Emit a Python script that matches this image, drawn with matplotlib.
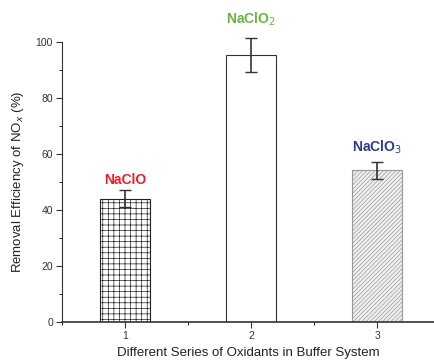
import numpy as np
import matplotlib
matplotlib.use('Agg')
import matplotlib.pyplot as plt
from matplotlib.ticker import MultipleLocator

plt.rcParams['font.family'] = ['Liberation Sans', 'DejaVu Sans']
plt.rcParams['hatch.linewidth'] = 0.5

# data
series = [1, 2, 3]
names = ['NaClO', 'NaClO$_2$', 'NaClO$_3$']
values = [44, 95.4, 54.2]
errors = [3, 6, 3]
name_colors = ['#e3222b', '#6cb33f', '#2f3a8a']
hatches = ['+++', '', '////////']
edge_colors = ['#222222', '#333333', '#999999']
face_colors = ['white', 'white', '#f0f0f0']
label_y = [50.7, 108, 62.5]

fig = plt.figure(figsize=(4.34, 3.63), dpi=100)
ax = fig.add_axes([0.143, 0.113, 0.857, 0.771])

for i in range(len(series)):
    ax.bar(series[i], values[i], width=0.4, facecolor=face_colors[i],
           edgecolor=edge_colors[i], hatch=hatches[i], linewidth=0.8, zorder=2)
    eb = ax.errorbar(series[i], values[i], yerr=errors[i], fmt='none',
                     ecolor='#333333', elinewidth=1.2, capsize=4, capthick=1.0, zorder=3)
    for art in eb.lines[1] + eb.lines[2]:
        art.set_clip_on(False)

for i in range(len(series)):
    ax.text(series[i], label_y[i], names[i], color=name_colors[i], ha='center',
            va='center', fontsize=10, fontweight='bold')

ax.set_xlim(0.5, 3.45)
ax.set_ylim(0, 100)
ax.spines['top'].set_visible(False)
ax.spines['right'].set_visible(False)
ax.spines['left'].set_color('#333333')
ax.spines['bottom'].set_color('#333333')
ax.spines['bottom'].set_linewidth(1.2)
ax.set_xticks(series)
ax.yaxis.set_major_locator(MultipleLocator(20))
ax.yaxis.set_minor_locator(MultipleLocator(10))
ax.xaxis.set_minor_locator(MultipleLocator(0.5))
ax.tick_params(labelsize=7.5, colors='#333333', length=4, pad=2.5)
ax.tick_params(which='minor', length=2)
ax.set_xlabel('Different Series of Oxidants in Buffer System', fontsize=9.5, color='#222222', labelpad=4)
ax.set_ylabel('Removal Efficiency of NO$_x$ (%)', fontsize=9.5, color='#222222', labelpad=7)

fig.savefig('out.png', dpi=100)
